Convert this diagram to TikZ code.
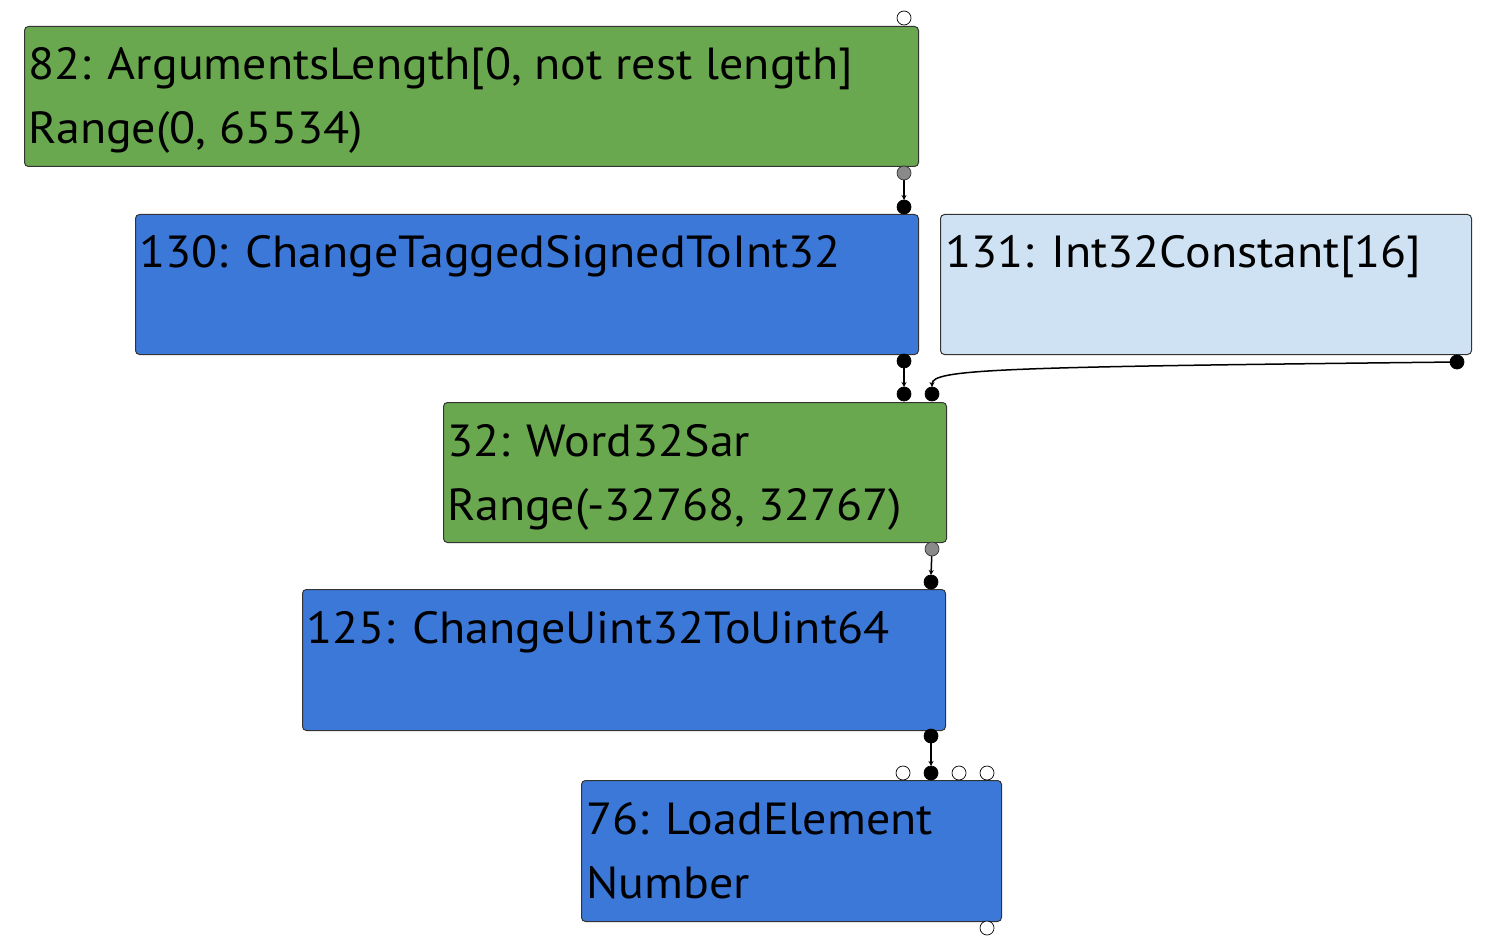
\documentclass[tikz,border=0pt]{standalone}
\usepackage{fontspec}
\setmainfont{PT Sans}[FakeStretch=1.065]
\usetikzlibrary{arrows.meta,calc}
\definecolor{ngreen}{HTML}{6AA84F}
\definecolor{nblue}{HTML}{3C78D8}
\definecolor{nlight}{HTML}{CFE2F3}
\definecolor{nborder}{HTML}{333333}
\definecolor{pgray}{HTML}{8A8A8A}
\tikzset{
  box/.style={draw=nborder, line width=1pt, rounded corners=4pt, anchor=north west, inner sep=0pt},
  txt/.style={anchor=base west, inner sep=0pt, font=\fontsize{45}{60}\selectfont, text=black},
  portopen/.style={circle, draw=black, fill=white, line width=0.7pt, minimum size=14pt, inner sep=0pt},
  portgray/.style={circle, draw=nborder, fill=pgray, line width=0.7pt, minimum size=14pt, inner sep=0pt},
  portblack/.style={circle, draw=black, fill=black, line width=0.7pt, minimum size=14pt, inner sep=0pt},
  edge/.style={draw=black, line width=1.5pt, -{Stealth[length=5pt,width=5pt]}}
}
\begin{document}
\begin{tikzpicture}[x=1pt,y=-1pt]
\path[fill=white] (0,0) rectangle (1493,949);
\useasboundingbox (0,0) rectangle (1493,949);
% boxes
\node[box, fill=ngreen, minimum width=894pt, minimum height=140pt] (n82) at (24,26) {};
\node[box, fill=nblue, minimum width=783pt, minimum height=140pt] (n130) at (135,214) {};
\node[box, fill=nlight, minimum width=531pt, minimum height=140pt] (n131) at (940,214) {};
\node[box, fill=ngreen, minimum width=503pt, minimum height=140pt] (n32) at (443,402) {};
\node[box, fill=nblue, minimum width=643pt, minimum height=141pt] (n125) at (302,589) {};
\node[box, fill=nblue, minimum width=420pt, minimum height=141pt] (n76) at (581,780) {};
% texts
\node[txt] (t82a) at (28,80) {82: ArgumentsLength[0, not rest length]};
\node[txt] (t82b) at (28,144) {Range(0, 65534)};
\node[txt] (t130) at (139,268) {130: ChangeTaggedSignedToInt32};
\node[txt] (t131) at (945,268) {131: Int32Constant[16]};
\node[txt] (t32a) at (447,456) {32: Word32Sar};
\node[txt] (t32b) at (447,520) {Range(-32768, 32767)};
\node[txt] (t125) at (306,643) {125: ChangeUint32ToUint64};
\node[txt] (t76a) at (586,834) {76: LoadElement};
\node[txt] (t76b) at (586,898) {Number};
% port coordinates
\coordinate (c82i) at (904,18);
\coordinate (c82o) at (904,173);
\coordinate (c130i) at (904,207);
\coordinate (c130o) at (904,361);
\coordinate (c131o) at (1457,362);
\coordinate (c32a) at (904,394);
\coordinate (c32b) at (932,394);
\coordinate (c32o) at (932,549);
\coordinate (c125i) at (931,582);
\coordinate (c125o) at (931,736);
\coordinate (c76a) at (903,773);
\coordinate (c76b) at (931,773);
\coordinate (c76c) at (959,773);
\coordinate (c76d) at (987,773);
\coordinate (c76o) at (987,928);
% edges
\draw[edge] (c82o) -- ($(c130i)+(0,-7)$);
\draw[edge] (c130o) -- ($(c32a)+(0,-7)$);
\draw[edge] (c131o) .. controls (1000,367) and (932,369) .. ($(c32b)+(0,-7)$);
\draw[edge] (c32o) -- ($(c125i)+(0,-7)$);
\draw[edge] (c125o) -- ($(c76b)+(0,-7)$);
% ports
\node[portopen] (p82i) at (c82i) {};
\node[portgray] (p82o) at (c82o) {};
\node[portblack] (p130i) at (c130i) {};
\node[portblack] (p130o) at (c130o) {};
\node[portblack] (p131o) at (c131o) {};
\node[portblack] (p32a) at (c32a) {};
\node[portblack] (p32b) at (c32b) {};
\node[portgray] (p32o) at (c32o) {};
\node[portblack] (p125i) at (c125i) {};
\node[portblack] (p125o) at (c125o) {};
\node[portopen] (p76a) at (c76a) {};
\node[portblack] (p76b) at (c76b) {};
\node[portopen] (p76c) at (c76c) {};
\node[portopen] (p76d) at (c76d) {};
\node[portopen] (p76o) at (c76o) {};
\end{tikzpicture}
\end{document}
